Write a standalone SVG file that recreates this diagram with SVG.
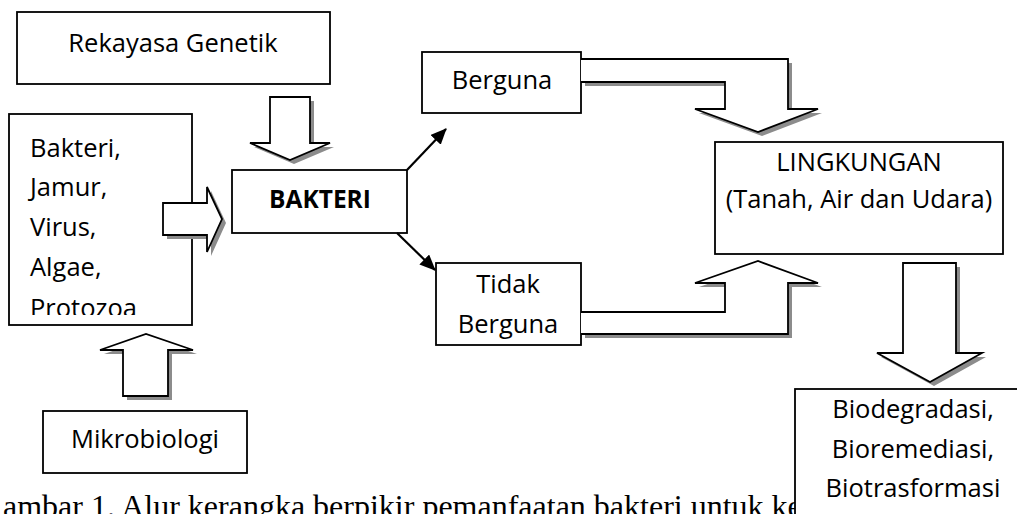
<svg xmlns="http://www.w3.org/2000/svg" width="1017" height="514" viewBox="0 0 1017 514">
<style>
.box{fill:#fff;stroke:#000;stroke-width:1.8}
.blk{fill:#fff;stroke:#000;stroke-width:1.8;stroke-linejoin:miter}
.sh{fill:#8c8c8c}
.t{font-family:"Open Sans","Liberation Sans",sans-serif;font-size:25.5px;fill:#000}
.c{text-anchor:middle}
.b{font-weight:bold;font-size:24.5px}
.line{stroke:#000;stroke-width:2.2;fill:none}
.cap{font-family:"Liberation Serif","Times New Roman",serif;font-size:32px;fill:#000}
</style>
<defs>
<marker id="ah" markerWidth="16" markerHeight="14" refX="15" refY="7" orient="auto" markerUnits="userSpaceOnUse" viewBox="0 0 16 14">
<path d="M0,0 L16,7 L0,14 Z" fill="#000"/>
</marker>
<clipPath id="clipL"><rect x="0" y="0" width="300" height="315"/></clipPath>
</defs>
<rect width="1017" height="514" fill="#fff"/>

<text class="cap" x="3" y="516.5">ambar 1. Alur kerangka berpikir pemanfaatan bakteri untuk ke</text>

<g id="rekayasa">
<rect class="box" x="17" y="12" width="313" height="72"/>
<text class="t c" x="173" y="52">Rekayasa Genetik</text>
</g>

<g id="organisme">
<rect class="box" x="9" y="114" width="183" height="211"/>
<g clip-path="url(#clipL)">
<text class="t" x="30" y="157">Bakteri,</text>
<text class="t" x="30" y="196">Jamur,</text>
<text class="t" x="30" y="236">Virus,</text>
<text class="t" x="30" y="276">Algae,</text>
<text class="t" x="30" y="317">Protozoa</text>
</g>
</g>

<g id="bakteri">
<rect class="box" x="232" y="170" width="175" height="63"/>
<text class="t c b" x="320" y="208">BAKTERI</text>
</g>

<g id="berguna">
<rect class="box" x="422" y="52" width="159" height="61"/>
<text class="t c" x="502" y="89">Berguna</text>
</g>

<g id="tidak-berguna">
<rect class="box" x="436" y="263" width="145" height="82"/>
<text class="t c" x="508" y="293">Tidak</text>
<text class="t c" x="508" y="333">Berguna</text>
</g>

<g id="lingkungan">
<rect class="box" x="715" y="142" width="288" height="112"/>
<text class="t c" x="859" y="171">LINGKUNGAN</text>
<text class="t c" x="859" y="208">(Tanah, Air dan Udara)</text>
</g>

<g id="mikrobiologi">
<rect class="box" x="43" y="411" width="204" height="62"/>
<text class="t c" x="145" y="448">Mikrobiologi</text>
</g>

<g id="bio">
<rect class="box" x="795" y="389" width="240" height="140"/>
<text class="t c" x="913" y="418">Biodegradasi,</text>
<text class="t c" x="913" y="458">Bioremediasi,</text>
<text class="t c" x="913" y="497">Biotrasformasi</text>
</g>

<g id="connectors">
<polygon class="sh" transform="translate(4,4)" points="270,97 310,97 310,143 330,143 290,160 250,143 270,143"/>
<polygon class="blk" points="270,97 310,97 310,143 330,143 290,160 250,143 270,143"/>
<polygon class="sh" transform="translate(4,4)" points="163,203 207,203 207,187 222,219 207,252 207,235 163,235"/>
<polygon class="blk" points="163,203 207,203 207,187 222,219 207,252 207,235 163,235"/>
<polygon class="sh" transform="translate(4,4)" points="123,396 168,396 168,350 193,350 146,334 100,350 123,350"/>
<polygon class="blk" points="123,396 168,396 168,350 193,350 146,334 100,350 123,350"/>
<line class="line" x1="407" y1="170" x2="446" y2="129" marker-end="url(#ah)"/>
<line class="line" x1="397" y1="233" x2="435" y2="270" marker-end="url(#ah)"/>
<polygon class="sh" transform="translate(4,4)" points="581,59 788,59 788,109 818,109 758,132 695,109 725,109 725,82 581,82"/>
<path class="blk" d="M581,59 L788,59 L788,109 L818,109 L758,132 L695,109 L725,109 L725,82 L581,82"/>
<polygon class="sh" transform="translate(4,4)" points="581,312 725,312 725,283 695,283 758,261 818,283 788,283 788,334 581,334"/>
<path class="blk" d="M581,312 L725,312 L725,283 L695,283 L758,261 L818,283 L788,283 L788,334 L581,334"/>
<polygon class="sh" transform="translate(4,4)" points="903,263 956,263 956,353 982,353 930,382 877,353 903,353"/>
<polygon class="blk" points="903,263 956,263 956,353 982,353 930,382 877,353 903,353"/>
</g>
</svg>
